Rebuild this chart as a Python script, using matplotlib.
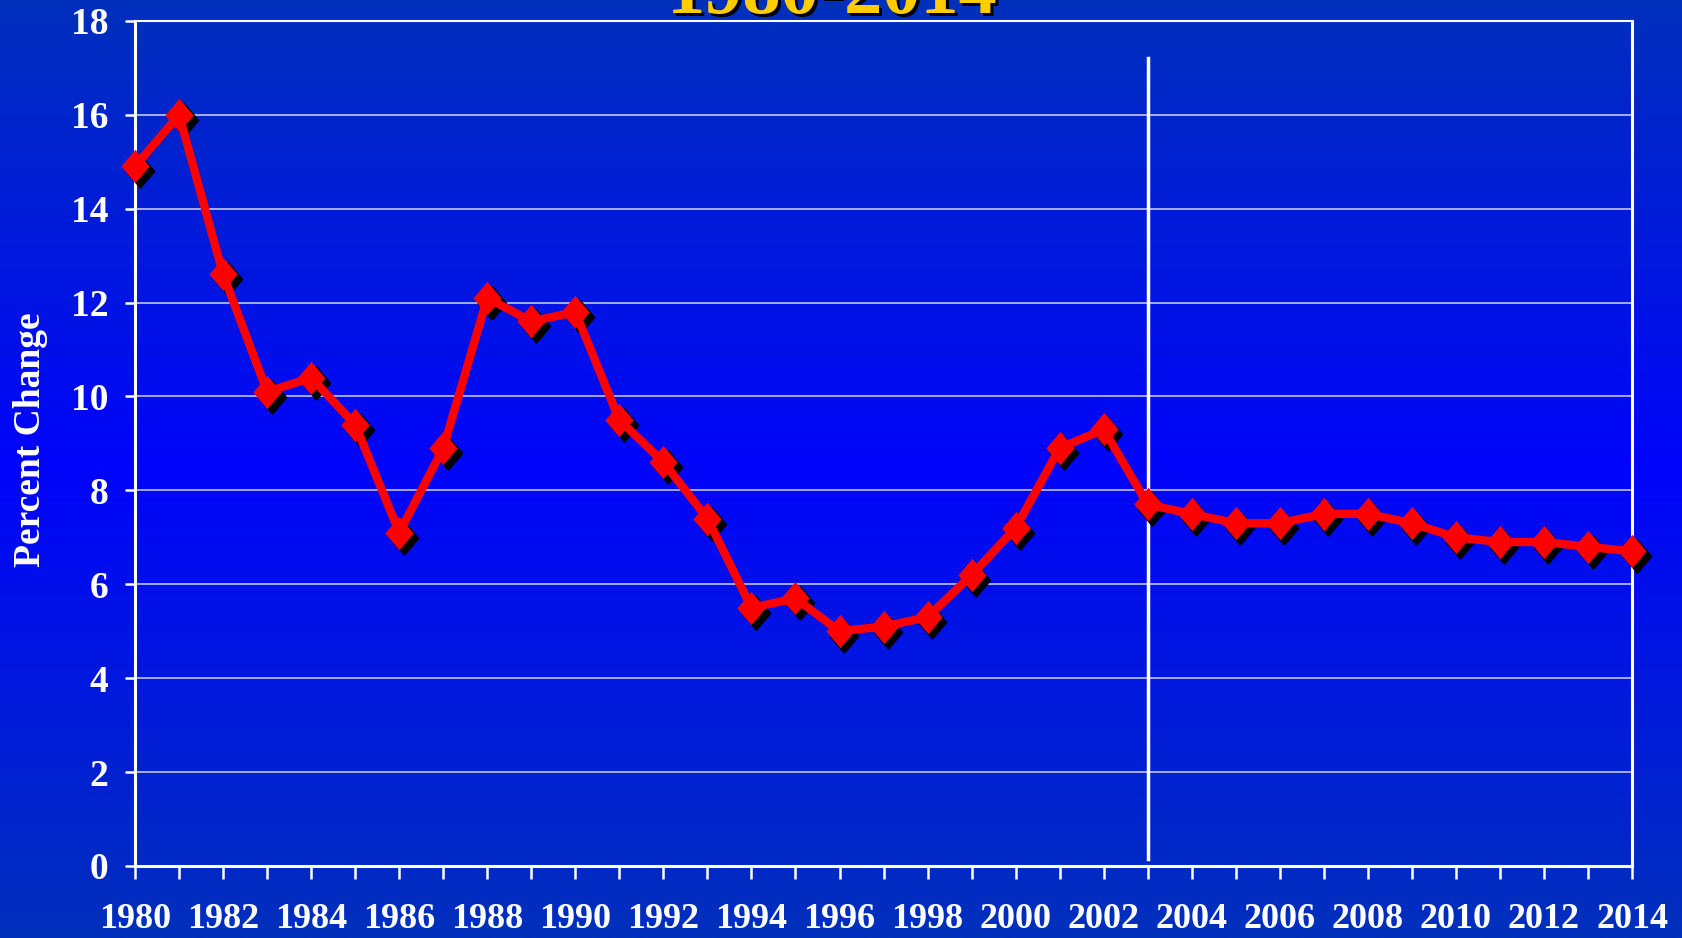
import numpy as np
import matplotlib
matplotlib.use('Agg')
import matplotlib.pyplot as plt
from matplotlib.colors import LinearSegmentedColormap
from matplotlib.transforms import ScaledTranslation

plt.rcParams['font.family'] = ['Liberation Serif', 'DejaVu Serif']
plt.rcParams['font.weight'] = 'bold'

# data
years = list(range(1980, 2015))
pct_change = [14.9, 16.0, 12.6, 10.1, 10.4, 9.4, 7.1, 8.9, 12.1, 11.6,
              11.8, 9.5, 8.6, 7.4, 5.5, 5.7, 5.0, 5.1, 5.3, 6.2,
              7.2, 8.9, 9.3, 7.7, 7.5, 7.3, 7.3, 7.5, 7.5, 7.3,
              7.0, 6.9, 6.9, 6.8, 6.7]
divider_year = 2003
divider_range = [0.15, 17.2]
title_text = '1980-2014'
y_label = 'Percent Change'
y_ticks = list(range(0, 19, 2))

fig = plt.figure(figsize=(16.82, 9.38), dpi=100)

# blue gradient background
bg = fig.add_axes([0, 0, 1, 1], zorder=-10)
cmap = LinearSegmentedColormap.from_list(
    'slide', [(0.0, '#0030bc'), (0.5, '#0004fa'), (1.0, '#0030bc')])
grad = np.linspace(0, 1, 512).reshape(-1, 1)
bg.imshow(grad, aspect='auto', cmap=cmap, extent=[0, 1, 0, 1])
bg.set_axis_off()

ax = fig.add_axes([0.0803, 0.0768, 0.890, 0.9009])
ax.set_facecolor('none')

# tall diamond marker
diamond = [(0, -1.0), (0.85, 0), (0, 1.0), (-0.85, 0), (0, -1.0)]

shadow = ax.transData + ScaledTranslation(0.045, -0.05, fig.dpi_scale_trans)
ax.plot(years, pct_change, linestyle='none', marker=diamond, markersize=24,
        color='black', transform=shadow, clip_on=False, zorder=3)
ax.plot(years, pct_change, color='#ff0000', linewidth=6, marker=diamond,
        markersize=24, markeredgewidth=0, clip_on=False, zorder=4)

ax.plot([divider_year, divider_year], divider_range, color='white',
        linewidth=2.5, zorder=2)

ax.set_xlim(1980, 2014)
ax.set_ylim(0, 18)
ax.set_xticks(years)
ax.set_xticklabels([str(y) if (y - 1980) % 2 == 0 else '' for y in years])
ax.set_yticks(y_ticks)

ax.grid(axis='y', color='white', alpha=0.75, linewidth=1.2)
ax.set_axisbelow(True)

for side in ['left', 'bottom', 'right']:
    ax.spines[side].set_color('white')
    ax.spines[side].set_linewidth(2.2)
ax.spines['top'].set_color('white')
ax.spines['top'].set_linewidth(1.5)

ax.tick_params(axis='x', colors='white', length=9, width=1.8, pad=18,
               labelsize=26, direction='out')
ax.tick_params(axis='y', colors='white', length=7, width=1.8, pad=12,
               labelsize=27, direction='out')
for lab in ax.get_xticklabels() + ax.get_yticklabels():
    lab.set_fontweight('bold')

fig.text(0.018, 0.531, y_label, rotation=90, color='white', fontsize=27,
         fontweight='bold', ha='center', va='center')

fig.text(0.4946, 1 - 13 / 938, title_text, color='#ffcc00', fontsize=55,
         fontweight='bold', ha='center', va='baseline')
fig.text(0.4946 + 3 / 1682, 1 - 16 / 938, title_text, color='black',
         fontsize=55, fontweight='bold', ha='center', va='baseline', zorder=-1)

fig.savefig('out.png', dpi=100)
